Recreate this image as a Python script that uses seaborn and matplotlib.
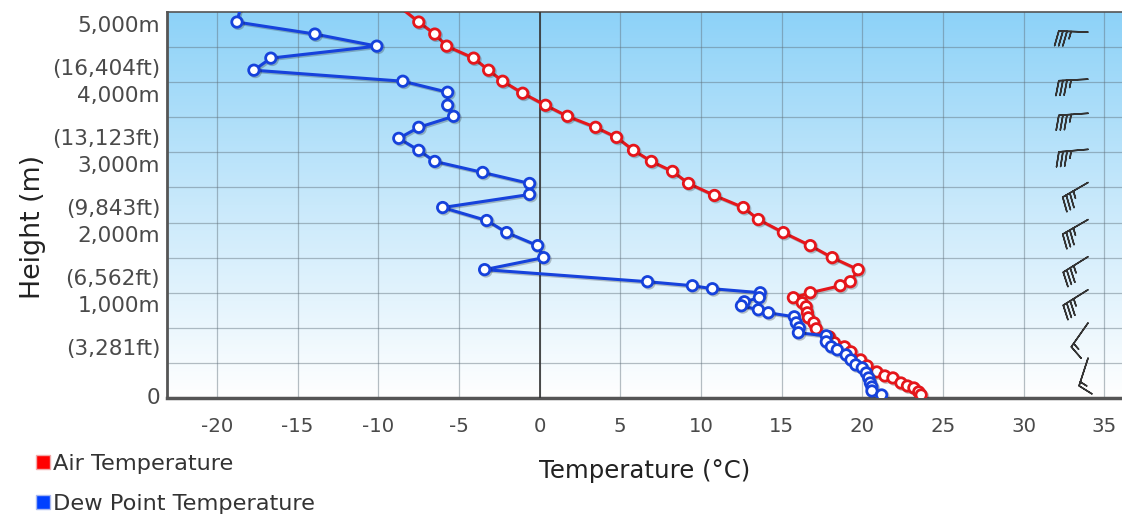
import numpy as np
import pandas as pd
import matplotlib
matplotlib.use("Agg")
import matplotlib.pyplot as plt
import matplotlib.patheffects as pe
from matplotlib.colors import LinearSegmentedColormap
from matplotlib.lines import Line2D
import seaborn as sns

# sounding data: temperature (deg C) against height (m), top to bottom
air_temp = [-9.3, -7.49, -6.50, -5.76, -4.09, -3.16, -2.29, -1.05, 0.37, 1.73,
            3.47, 4.77, 5.82, 6.93, 8.24, 9.23, 10.84, 12.63, 13.56, 15.11,
            16.78, 18.14, 19.75, 19.26, 18.64, 16.78, 15.73, 16.28, 16.53, 16.6,
            16.66, 17.0, 17.15, 17.96, 18.27, 18.9, 19.3, 19.9, 20.3, 20.9,
            21.4, 21.9, 22.4, 22.8, 23.2, 23.5, 23.65]
air_height = [5690, 5357, 5186, 5014, 4843, 4671, 4514, 4343, 4171, 4014,
              3857, 3714, 3529, 3371, 3229, 3057, 2886, 2714, 2543, 2357,
              2171, 2000, 1829, 1657, 1600, 1500, 1429, 1357, 1300, 1214,
              1143, 1071, 986, 871, 786, 729, 657, 543, 457, 371,
              314, 286, 214, 171, 143, 86, 43]

dew_temp = [-18.4, -18.76, -13.93, -10.09, -16.66, -17.71, -8.48, -5.70, -5.70, -5.33,
            -7.49, -8.73, -7.49, -6.50, -3.53, -0.62, -0.62, -6.01, -3.28, -2.04,
            -0.12, 0.25, -3.41, 6.69, 9.47, 10.71, 13.68, 13.62, 12.69, 12.51,
            13.56, 14.18, 15.79, 15.91, 16.1, 16.04, 17.77, 17.77, 18.08, 18.45,
            19.0, 19.3, 19.6, 20.0, 20.25, 20.4, 20.5, 20.6, 20.6, 21.2]
dew_height = [5690, 5357, 5186, 5014, 4843, 4671, 4514, 4357, 4171, 4014,
              3857, 3700, 3529, 3371, 3214, 3057, 2900, 2714, 2529, 2357,
              2171, 2000, 1829, 1657, 1600, 1557, 1500, 1429, 1371, 1314,
              1257, 1214, 1157, 1071, 1000, 929, 886, 800, 729, 686,
              614, 543, 471, 429, 357, 286, 214, 157, 100, 43]

# wind barbs
wind_height = [5214, 4543, 4057, 3543, 3071, 2543, 2014, 1543, 1071, 571]
wind_dir = [272, 267, 266, 265, 240, 240, 238, 238, 215, 198]
wind_speed = [35, 35, 35, 35, 35, 35, 35, 35, 15, 15]
wind_x = 34.0

x_ticks = [-20, -15, -10, -5, 0, 5, 10, 15, 20, 25, 30, 35]
y_ticks = [0, 1000, 2000, 3000, 4000, 5000]
y_tick_labels = ["0", "1,000m\n(3,281ft)", "2,000m\n(6,562ft)", "3,000m\n(9,843ft)",
                 "4,000m\n(13,123ft)", "5,000m\n(16,404ft)"]

RED = "#e5161b"
BLUE = "#1642dc"

sns.set_theme(style="white")
plt.rcParams["font.family"] = ["DejaVu Sans"]

fig = plt.figure(figsize=(11.22, 5.18), dpi=100)
ax = fig.add_axes([0.1488, 0.2317, 0.8512, 0.7451])

# sky gradient background
grad = np.linspace(0, 1, 256).reshape(-1, 1)
sky = LinearSegmentedColormap.from_list("sky", ["#ffffff", "#c9e9fb", "#8dd2f8"])
ax.imshow(grad, extent=[0, 1, 0, 1], transform=ax.transAxes, origin="lower",
          aspect="auto", cmap=sky, zorder=0)

air = pd.DataFrame({"temp": air_temp, "height": air_height})
dew = pd.DataFrame({"temp": dew_temp, "height": dew_height})

shadow = [pe.SimpleLineShadow(offset=(1, -1), alpha=0.25), pe.Normal()]
for df, col in [(air, RED), (dew, BLUE)]:
    sns.lineplot(data=df, x="temp", y="height", sort=False, estimator=None,
                 color=col, linewidth=2.2, marker="o", markersize=7.5,
                 markerfacecolor="white", markeredgecolor=col,
                 markeredgewidth=2.0, ax=ax, zorder=4)
for ln in ax.lines:
    ln.set_path_effects(shadow)

# wind barbs
wd = np.deg2rad(wind_dir)
u = -np.array(wind_speed) * np.sin(wd)
v = -np.array(wind_speed) * np.cos(wd)
ax.barbs([wind_x] * len(wind_height), wind_height, u, v, length=6.5,
         sizes=dict(height=0.5, spacing=0.14), color="#333333",
         linewidth=1.1, flip_barb=True, zorder=5)

ax.axvline(0, color="#333333", linewidth=1.2, zorder=3)

ax.set_xlim(-23.1, 36.1)
ax.set_ylim(0, 5500)
ax.set_xticks(x_ticks)
ax.set_xticklabels([str(t) for t in x_ticks])
ax.set_yticks(y_ticks)
ax.set_yticklabels(y_tick_labels, linespacing=2.45, va="center")
ax.set_yticks(np.arange(500, 5500, 1000), minor=True)

ax.set_axisbelow(True)
ax.grid(True, which="both", color="#5f6f7a", alpha=0.45, linewidth=0.9)
ax.tick_params(axis="x", length=0, pad=14, labelsize=14.2, labelcolor="#4a4a4a")
ax.tick_params(axis="y", which="both", length=0, pad=5, labelsize=15.6, labelcolor="#4a4a4a")

for side in ["left", "bottom", "top"]:
    ax.spines[side].set_visible(True)
    ax.spines[side].set_color("#555555")
ax.spines["left"].set_linewidth(2)
ax.spines["bottom"].set_linewidth(2.5)
ax.spines["top"].set_linewidth(1.2)
ax.spines["right"].set_visible(False)

ax.set_xlabel("Temperature (°C)", fontsize=17.6, color="#222222", labelpad=16)
ax.set_ylabel("Height (m)", fontsize=19.4, color="#222222")
ax.yaxis.set_label_coords(-0.127, 0.444)

handles = [
    Line2D([], [], marker="s", linestyle="none", markersize=10,
           markerfacecolor="#ff0000", markeredgecolor="#f2aaaa", markeredgewidth=1),
    Line2D([], [], marker="s", linestyle="none", markersize=10,
           markerfacecolor="#0040ff", markeredgecolor="#a8b8f0", markeredgewidth=1),
]
fig.legend(handles, ["Air Temperature", "Dew Point Temperature"],
           loc="center left", bbox_to_anchor=(0.031, 0.0656), frameon=False,
           fontsize=16.2, labelcolor="#333333", handlelength=0.7,
           handletextpad=0.1, labelspacing=0.9, borderpad=0, borderaxespad=0)

fig.savefig("out.png", dpi=100)
